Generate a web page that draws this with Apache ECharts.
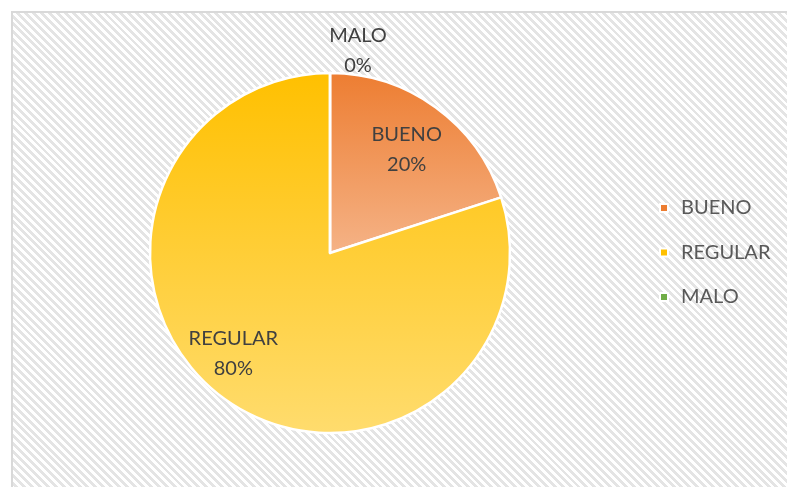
<!DOCTYPE html>
<html>
<head>
<meta charset="utf-8">
<script src="https://cdn.jsdelivr.net/npm/echarts@6/dist/echarts.min.js"></script>
<style>
html,body{margin:0;padding:0;background:#fff;width:787px;height:487px;overflow:hidden;}
#frame{position:absolute;left:11px;top:11px;width:800px;height:500px;border:2px solid #d9d9d9;
background:repeating-linear-gradient(45deg,#ffffff 0px,#ffffff 2.8px,#e4e4e4 2.8px,#e4e4e4 5.6px);}
#chart{position:absolute;left:0;top:0;width:787px;height:487px;}
</style>
</head>
<body>
<div id="frame"></div>
<div id="chart"></div>
<script>
const categories = ['BUENO', 'REGULAR', 'MALO'];
const values = [20, 80, 0];
const percentLabels = ['20%', '80%', '0%'];

const colorTop = ['#ED7D31', '#FFC000', '#70AD47'];
const colorBottom = ['#F5B387', '#FFDC6E', '#70AD47'];
const labelOffsets = [[22, -28], [-42, 25], [28, -109]];

const chart = echarts.init(document.getElementById('chart'), null, {renderer: 'canvas'});
const data = categories.map((c, i) => ({
  name: c,
  value: values[i],
  itemStyle: {
    color: new echarts.graphic.LinearGradient(0, 0, 0, 1, [
      {offset: 0, color: colorTop[i]},
      {offset: 1, color: colorBottom[i]}
    ])
  },
  label: {offset: labelOffsets[i]}
}));

chart.setOption({
  backgroundColor: 'transparent',
  animation: false,
  legend: {
    orient: 'vertical',
    left: 659,
    top: 198,
    padding: 0,
    icon: 'rect',
    itemWidth: 8,
    itemHeight: 8,
    itemGap: 24.5,
    data: categories.map((c, i) => ({name: c, itemStyle: {color: colorTop[i]}})),
    textStyle: {fontFamily: 'Lato', fontSize: 20, color: '#595959', lineHeight: 20, padding: [0, 0, 0, 8]}
  },
  series: [{
    type: 'pie',
    center: [330, 253],
    radius: [0, 180],
    startAngle: 90,
    clockwise: true,
    avoidLabelOverlap: false,
    minShowLabelAngle: 0,
    itemStyle: {borderColor: '#ffffff', borderWidth: 2.5},
    label: {
      show: true,
      position: 'inside',
      fontFamily: 'Lato',
      fontSize: 20,
      lineHeight: 30,
      color: '#404040',
      formatter: p => p.name + '\n' + percentLabels[p.dataIndex]
    },
    labelLine: {show: false},
    emphasis: {disabled: true},
    data: data
  }]
});
</script>
</body>
</html>
